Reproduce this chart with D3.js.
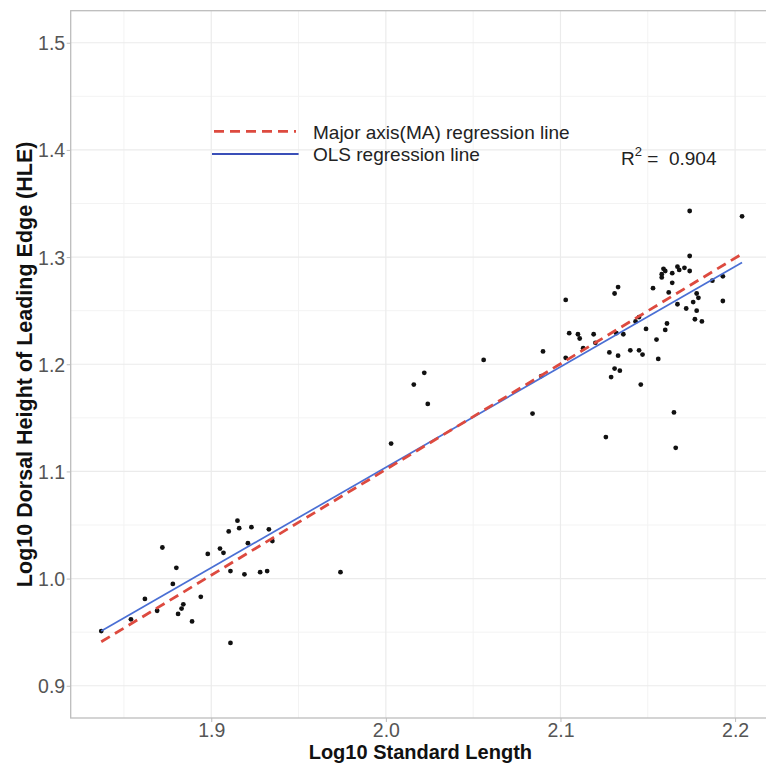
<!DOCTYPE html>
<html><head><meta charset="utf-8">
<script src="https://cdn.jsdelivr.net/npm/d3@7"></script>
<style>body{margin:0;background:#fff}svg{display:block}</style>
</head><body><svg id="c" width="766" height="764"></svg>
<script>
const xTicks = [1.9, 2.0, 2.1, 2.2];
const yTicks = [0.9, 1.0, 1.1, 1.2, 1.3, 1.4, 1.5];
const logSL = [1.837,1.854,1.862,1.872,1.869,1.880,1.878,1.881,1.883,1.884,1.889,1.894,1.898,1.905,1.907,1.910,1.911,1.911,1.915,1.916,1.919,1.921,1.923,1.928,1.932,1.933,1.935,
1.974,2.003,2.016,2.022,2.024,2.056,2.090,2.089,2.084,
2.103,2.105,2.103,2.110,2.111,2.113,2.119,2.120,2.126,2.128,2.129,2.131,2.134,2.133,2.132,2.136,2.131,2.133,2.140,2.143,2.145,2.145,2.147,2.146,2.149,2.153,2.155,2.156,2.160,2.161,2.162,2.164,2.159,2.160,2.158,2.158,2.164,2.167,2.168,2.171,2.174,2.174,2.174,2.165,2.166,2.167,2.172,2.176,2.178,2.179,2.178,2.177,2.181,2.187,2.193,2.193,2.204];
const logHLE = [0.951,0.962,0.981,1.029,0.970,1.010,0.995,0.967,0.972,0.976,0.960,0.983,1.023,1.028,1.024,1.044,1.007,0.940,1.054,1.047,1.004,1.033,1.048,1.006,1.007,1.046,1.035,
1.006,1.126,1.181,1.192,1.163,1.204,1.212,1.189,1.154,
1.206,1.229,1.260,1.228,1.224,1.215,1.228,1.220,1.132,1.211,1.188,1.196,1.194,1.208,1.229,1.228,1.266,1.272,1.213,1.240,1.244,1.213,1.209,1.181,1.233,1.271,1.223,1.205,1.232,1.238,1.267,1.276,1.289,1.287,1.284,1.281,1.285,1.291,1.288,1.290,1.287,1.301,1.343,1.155,1.122,1.256,1.252,1.258,1.266,1.262,1.250,1.242,1.240,1.278,1.282,1.259,1.338];
const lineX = [1.837, 2.204];
const olsY = [0.951, 1.295];
const maY = [0.941, 1.303];
const legendLabels = ["Major axis(MA) regression line", "OLS regression line"];
const r2Value = "0.904";

const svg = d3.select("#c");
const L = 70.7, R = 770, T = 10.7, B = 718;
const x = d3.scaleLinear().domain([1.8195, 2.22]).range([L, R]);
const y = d3.scaleLinear().domain([0.8699, 1.5299]).range([B, T]);
const FONT = "Liberation Sans, Arial, Helvetica, sans-serif";

// grid
const minorX = d3.range(1.85, 2.22, 0.1), minorY = d3.range(0.95, 1.5, 0.1);
const g = svg.append("g");
g.selectAll(".mx").data(minorX).join("line").attr("x1", d=>x(d)).attr("x2", d=>x(d)).attr("y1", T).attr("y2", B).attr("stroke", "#f3f3f3").attr("stroke-width", 1);
g.selectAll(".my").data(minorY).join("line").attr("y1", d=>y(d)).attr("y2", d=>y(d)).attr("x1", L).attr("x2", R).attr("stroke", "#f3f3f3").attr("stroke-width", 1);
g.selectAll(".Mx").data(xTicks).join("line").attr("x1", d=>x(d)).attr("x2", d=>x(d)).attr("y1", T).attr("y2", B).attr("stroke", "#ebebeb").attr("stroke-width", 1.2);
g.selectAll(".My").data(yTicks).join("line").attr("y1", d=>y(d)).attr("y2", d=>y(d)).attr("x1", L).attr("x2", R).attr("stroke", "#ebebeb").attr("stroke-width", 1.2);

// border
svg.append("rect").attr("x", L).attr("y", T).attr("width", R - L).attr("height", B - T).attr("fill", "none").attr("stroke", "#bdbdbd").attr("stroke-width", 1.3);

// axes
const xAxis = svg.append("g").attr("transform", `translate(0,${B})`).call(d3.axisBottom(x).tickValues(xTicks).tickFormat(d3.format(".1f")).tickSize(4).tickSizeOuter(0));
const yAxis = svg.append("g").attr("transform", `translate(${L},0)`).call(d3.axisLeft(y).tickValues(yTicks).tickFormat(d3.format(".1f")).tickSize(4).tickSizeOuter(0));
[xAxis, yAxis].forEach(a => {
  a.select(".domain").remove();
  a.selectAll(".tick line").attr("stroke", "#bdbdbd");
  a.selectAll(".tick text").attr("fill", "#555").attr("font-family", FONT).attr("font-size", 19.5);
});
xAxis.selectAll(".tick text").attr("dy", null).attr("y", 18.5);
yAxis.selectAll(".tick text").attr("x", -5.5).attr("dy", "0.36em");

// points
svg.append("g").selectAll("circle").data(logSL.map((d, i) => [d, logHLE[i]])).join("circle")
  .attr("cx", d => x(d[0])).attr("cy", d => y(d[1])).attr("r", 2.4).attr("fill", "#111");

// lines
const ln = d3.line().x(d => x(d[0])).y(d => y(d[1]));
svg.append("path").datum(lineX.map((d, i) => [d, olsY[i]])).attr("d", ln).attr("fill", "none").attr("stroke", "#4a6fd4").attr("stroke-width", 1.7);
svg.append("path").datum(lineX.map((d, i) => [d, maY[i]])).attr("d", ln).attr("fill", "none").attr("stroke", "#dd4a3f").attr("stroke-width", 2.8).attr("stroke-dasharray", "10,6");

// legend
const leg = svg.append("g");
leg.append("line").attr("x1", 214).attr("x2", 296).attr("y1", 131.4).attr("y2", 131.4).attr("stroke", "#dd4a3f").attr("stroke-width", 2.8).attr("stroke-dasharray", "10,6");
leg.append("line").attr("x1", 212).attr("x2", 298.6).attr("y1", 154).attr("y2", 154).attr("stroke", "#3a4fb8").attr("stroke-width", 2);
leg.selectAll("text").data(legendLabels).join("text").attr("x", 313).attr("y", (d, i) => 138.6 + i * 22)
  .attr("font-family", FONT).attr("font-size", 19).attr("fill", "#222").text(d => d);

// R2
const rt = svg.append("text").attr("x", 621).attr("y", 165).attr("font-family", FONT).attr("font-size", 19).attr("fill", "#222");
rt.append("tspan").text("R");
rt.append("tspan").attr("font-size", 13).attr("dy", -9).text("2");
rt.append("tspan").attr("dy", 9).style("white-space", "pre").text(" =  " + r2Value);

// axis titles
svg.append("text").attr("x", (L + R) / 2).attr("y", 759).attr("text-anchor", "middle").attr("font-family", FONT).attr("font-weight", "bold").attr("font-size", 20).attr("fill", "#111").text("Log10 Standard Length");
svg.append("text").attr("transform", `translate(31.5,${(T + B) / 2}) rotate(-90)`).attr("text-anchor", "middle").attr("font-family", FONT).attr("font-weight", "bold").attr("font-size", 21.5).attr("fill", "#111").text("Log10 Dorsal Height of Leading Edge (HLE)");
</script></body></html>
